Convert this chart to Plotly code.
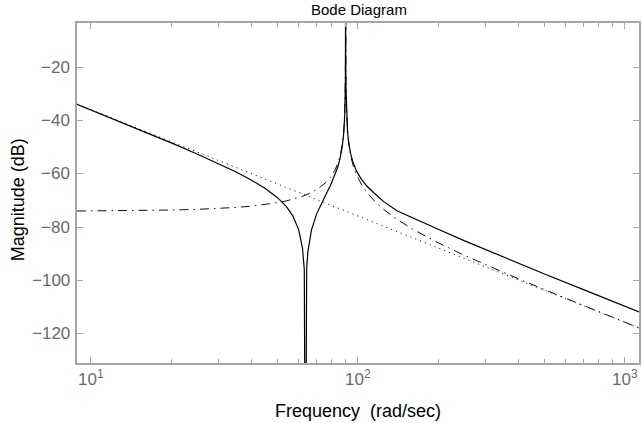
import plotly.graph_objects as go

# frequency grid (rad/sec)
freq = [8.87, 10, 12, 15, 20, 25, 30, 35, 40, 45, 50, 54, 57, 60, 62, 63, 63.64, 64.3, 65, 67,
        70, 73, 76, 79, 82, 84, 86, 87.5, 88.5, 89.3, 89.8, 89.95, 90.0, 90.05, 90.2, 90.7, 91.5,
        92.5, 94, 96, 99, 103, 108, 115, 125, 140, 160, 200, 250, 300, 400, 500, 700, 900, 1130]

# solid: full system magnitude (dB)
mag_total = [-33.81, -35.91, -39.13, -43.09, -48.30, -52.48, -56.04, -59.26, -62.34, -65.45,
             -68.90, -72.28, -75.66, -80.91, -87.77, -95.90, -200.0, -95.54, -89.19, -81.12,
             -75.09, -71.03, -67.59, -64.25, -60.56, -57.56, -53.62, -49.26, -44.66, -37.90,
             -26.96, -14.89, 20.0, -14.88, -26.90, -37.70, -44.23, -48.52, -52.44, -55.76,
             -59.01, -61.94, -64.53, -67.15, -70.40, -73.80, -76.50, -80.78, -85.08, -88.44,
             -93.63, -97.60, -103.51, -107.91, -111.87]

# dash-dot: resonant mode (dB)
mag_mode = [-73.92, -73.89, -73.84, -73.76, -73.56, -73.30, -72.98, -72.58, -72.09, -71.50,
            -70.79, -70.12, -69.55, -68.89, -68.41, -68.15, -68.00, -67.80, -67.60, -66.98,
            -65.93, -64.68, -63.15, -61.22, -58.60, -56.20, -52.78, -48.77, -44.39, -37.80,
            -26.95, -14.92, 20.0, -14.92, -26.97, -37.87, -44.53, -49.01, -53.17, -56.78,
            -60.44, -63.82, -66.87, -70.02, -73.36, -77.04, -80.69, -85.91, -90.54, -94.10,
            -99.46, -103.50, -109.49, -113.91, -117.90]

# dotted: rigid-body asymptote (dB)
freq_rigid = [8.87, 1130]
mag_rigid = [-33.72, -117.92]

x_ticks = [10, 100, 1000]
x_ticktext = ["10<sup>1</sup>", "10<sup>2</sup>", "10<sup>3</sup>"]
y_ticks = [-20, -40, -60, -80, -100, -120]
y_ticktext = ["\u221220", "\u221240", "\u221260", "\u221280", "\u2212100", "\u2212120"]
minor_ticks = [20, 30, 40, 50, 60, 70, 80, 90, 200, 300, 400, 500, 600, 700, 800, 900]

FONT = "Liberation Sans, Arial, sans-serif"
L, R, T, B = 77, 1, 23, 60
plot_w = 642 - L - R
plot_h = 423 - T - B

fig = go.Figure()
fig.add_trace(go.Scatter(x=freq_rigid, y=mag_rigid, mode="lines",
                         line=dict(color="#222", width=1, dash="1.2px,4px"), showlegend=False))
fig.add_trace(go.Scatter(x=freq, y=mag_mode, mode="lines",
                         line=dict(color="#111", width=1, dash="9px,5px,1.5px,5px"), showlegend=False))
fig.add_trace(go.Scatter(x=freq, y=mag_total, mode="lines",
                         line=dict(color="#000", width=1.2), showlegend=False))

axis_common = dict(showgrid=False, zeroline=False, showline=True, linecolor="#a6a6a6",
                   linewidth=1.5, mirror="allticks", ticks="inside", tickcolor="#a6a6a6",
                   tickwidth=1, tickfont=dict(family=FONT, size=17, color="#6a6a6a"))

annotations = [
    dict(text="Bode Diagram", x=(360 - L) / plot_w, y=(423 - B - 10) / plot_h,
         xref="paper", yref="paper", showarrow=False, yanchor="middle",
         font=dict(family=FONT, size=15, color="#000")),
    dict(text="Magnitude (dB)", textangle=-90, x=(18 - L) / plot_w, y=(423 - B - 200) / plot_h,
         xref="paper", yref="paper", xanchor="center", yanchor="middle", showarrow=False,
         font=dict(family=FONT, size=18, color="#000")),
    dict(text="Frequency\u00a0\u00a0(rad/sec)", x=(359 - L) / plot_w, y=(423 - B - 411) / plot_h,
         xref="paper", yref="paper", yanchor="middle", showarrow=False,
         font=dict(family=FONT, size=18, color="#000")),
]
for v, t in zip(y_ticks, y_ticktext):
    annotations.append(dict(text=t, x=(72 - L) / plot_w, y=v, xref="paper", yref="y",
                            xanchor="right", yanchor="middle", showarrow=False,
                            font=dict(family=FONT, size=17, color="#6a6a6a")))

fig.update_layout(
    width=642, height=423,
    margin=dict(l=L, r=R, t=T, b=B),
    paper_bgcolor="white", plot_bgcolor="white",
    xaxis=dict(type="log", range=[0.948, 3.053], tickvals=x_ticks, ticktext=x_ticktext,
               ticklen=6, minor=dict(tickvals=minor_ticks, ticks="inside", ticklen=4,
                                     tickcolor="#a6a6a6", showgrid=False),
               **axis_common),
    yaxis=dict(range=[-131.1, -3.2], tickvals=y_ticks, ticklen=6, showticklabels=False,
               **axis_common),
    annotations=annotations,
)

fig.write_html("out.html")
